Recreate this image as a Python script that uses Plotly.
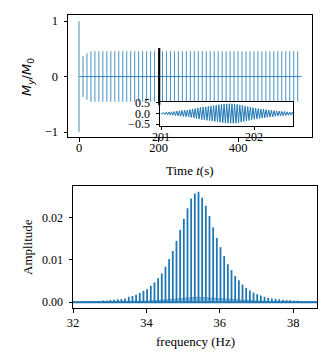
import plotly.graph_objects as go

# ---------------- data ----------------
# main time trace: initial pulse at t=0, then bursts every 10 s
pulse_times = [0] + [10 * i for i in range(1, 56)]
pulse_amps = [1.0, 0.37, 0.42] + [0.455] * 53
trace_end = 560

# inset: one burst (201 .. 202.42 s), per-cycle amplitude
inset_t0 = 201.0
inset_period = 1 / 35.4
inset_amps = [0.03, 0.045, 0.06, 0.07, 0.08, 0.095, 0.11, 0.125, 0.14, 0.15,
              0.16, 0.185, 0.21, 0.235, 0.26, 0.28, 0.30, 0.315, 0.33, 0.35,
              0.37, 0.39, 0.41, 0.425, 0.44, 0.45, 0.455, 0.455, 0.45, 0.425,
              0.40, 0.375, 0.35, 0.32, 0.29, 0.27, 0.25, 0.23, 0.21, 0.195,
              0.18, 0.165, 0.15, 0.135, 0.12, 0.11, 0.10, 0.09, 0.08, 0.07, 0.06]

# spectrum comb peaks (Hz, amplitude)
peak_freqs = [32.02, 32.12, 32.22, 32.32, 32.42, 32.52, 32.62, 32.72, 32.82, 32.92,
              33.02, 33.12, 33.22, 33.32, 33.42, 33.52, 33.62, 33.72, 33.82, 33.92,
              34.02, 34.12, 34.22, 34.32, 34.42, 34.52, 34.62, 34.72, 34.82, 34.92,
              35.02, 35.12, 35.22, 35.32, 35.42, 35.52, 35.62, 35.72, 35.82, 35.92,
              36.02, 36.12, 36.22, 36.32, 36.42, 36.52, 36.62, 36.72, 36.82, 36.92,
              37.02, 37.12, 37.22, 37.32, 37.42, 37.52, 37.62, 37.72, 37.82, 37.92,
              38.02, 38.12, 38.22, 38.32, 38.42, 38.52, 38.62]
peak_amps = [0.0001, 0.00015, 0.00015, 0.0002, 0.0002, 0.00025, 0.0003, 0.0003, 0.0004, 0.0004,
             0.0005, 0.0006, 0.0007, 0.0008, 0.0009, 0.0013, 0.0015, 0.0018, 0.0022, 0.0027,
             0.0031, 0.0039, 0.0047, 0.0057, 0.0068, 0.0084, 0.0102, 0.0121, 0.0145, 0.0171,
             0.0197, 0.0222, 0.0245, 0.0257, 0.0261, 0.0247, 0.0228, 0.0204, 0.0177, 0.0152,
             0.0130, 0.0109, 0.0090, 0.0076, 0.0062, 0.0052, 0.0042, 0.0034, 0.0028, 0.0023,
             0.0019, 0.0016, 0.0013, 0.0011, 0.0009, 0.0008, 0.0007, 0.0006, 0.0005, 0.0005,
             0.0004, 0.0004, 0.0003, 0.0003, 0.0003, 0.0002, 0.0002]

# sidelobe (floor between peaks)
side_freqs = [32.0, 33.0, 33.5, 34.0, 34.3, 34.6, 34.9, 35.2, 35.4, 35.6,
              35.9, 36.2, 36.6, 37.0, 37.5, 38.0, 38.65]
side_amps = [0.00005, 0.0001, 0.00015, 0.00025, 0.0004, 0.0006, 0.0009, 0.0011, 0.0012, 0.0011,
             0.0009, 0.0007, 0.0005, 0.0003, 0.00015, 0.0001, 0.00005]

BLUE = "#1f77b4"
FONT = "Liberation Serif"

# ---------------- build ----------------
fig = go.Figure()

fig.add_trace(go.Scatter(x=[0, trace_end], y=[0, 0], mode="lines",
                         line=dict(color=BLUE, width=1), opacity=0.85,
                         xaxis="x", yaxis="y", hoverinfo="skip"))
sx, sy = [], []
for t, a in zip(pulse_times, pulse_amps):
    sx += [t, t, None]
    sy += [-a, a, None]
fig.add_trace(go.Scatter(x=sx, y=sy, mode="lines",
                         line=dict(color=BLUE, width=1), opacity=0.8,
                         xaxis="x", yaxis="y", hoverinfo="skip"))

fig.add_trace(go.Scatter(x=side_freqs, y=side_amps, mode="lines", fill="tozeroy",
                         fillcolor="rgba(31,119,180,0.45)",
                         line=dict(color="rgba(31,119,180,0.6)", width=1),
                         xaxis="x2", yaxis="y2", hoverinfo="skip"))
fig.add_trace(go.Scatter(x=[32, 38.65], y=[0, 0], mode="lines",
                         line=dict(color=BLUE, width=2),
                         xaxis="x2", yaxis="y2", hoverinfo="skip"))
px_, py_ = [], []
for f, a in zip(peak_freqs, peak_amps):
    px_ += [f, f, None]
    py_ += [0, a, None]
fig.add_trace(go.Scatter(x=px_, y=py_, mode="lines",
                         line=dict(color=BLUE, width=1.8),
                         xaxis="x2", yaxis="y2", hoverinfo="skip"))

ix, iy = [], []
half = inset_period / 2
for i, a in enumerate(inset_amps):
    t = inset_t0 + i * inset_period
    ix += [t, t + half]
    iy += [a, -a]
fig.add_trace(go.Scatter(x=ix, y=iy, mode="lines",
                         line=dict(color=BLUE, width=1),
                         xaxis="x3", yaxis="y3", hoverinfo="skip"))

W, H = 335, 357
def fx(p):
    return p / W
def fy(p):
    return 1 - p / H

def ax(size=12.5, standoff=2):
    return dict(showgrid=False, zeroline=False, showline=True, mirror=True,
                linecolor="black", linewidth=1, ticks="outside", ticklen=3.5,
                tickwidth=0.8, tickcolor="black", automargin=False,
                ticklabelstandoff=standoff,
                tickfont=dict(family=FONT, size=size, color="black"))

fig.update_layout(
    template="none",
    width=W, height=H, margin=dict(l=0, r=0, t=0, b=0, pad=0),
    font=dict(family=FONT, color="black"),
    paper_bgcolor="white", plot_bgcolor="white", showlegend=False,
    xaxis=dict(domain=[fx(68), fx(312)], range=[-27.7, 586], anchor="y",
               tickvals=[0, 200, 400], **ax(12.5, -5)),
    yaxis=dict(domain=[fy(137), fy(15)], range=[-1.09, 1.11], anchor="x",
               tickvals=[-1, 0, 1], ticktext=["\u22121", "0", "1"], **ax(12.5, 3)),
    xaxis2=dict(domain=[fx(73), fx(317)], range=[32, 38.65], anchor="y2",
                tickvals=[32, 34, 36, 38], **ax(12.5, -1)),
    yaxis2=dict(domain=[fy(308), fy(186)], range=[-0.00135, 0.02747], anchor="x2",
                tickvals=[0, 0.01, 0.02], tickformat=".2f", **ax(12, 3)),
    xaxis3=dict(domain=[fx(160), fx(293)], range=[200.989, 202.419], anchor="y3",
                tickvals=[201, 202], **ax(12, -3)),
    yaxis3=dict(domain=[fy(125.5), fy(101.5)], range=[-0.56, 0.56], anchor="x3",
                tickvals=[-0.5, 0, 0.5], tickformat=".1f", **ax(12, 3)),
)

fig.add_shape(type="rect", xref="x", yref="y", x0=201, x1=202.42, y0=-0.5, y1=0.5,
              line=dict(color="black", width=1.6), layer="above")

def title(x, y, text, angle=0, family=FONT):
    fig.add_annotation(x=fx(x), y=fy(y), xref="paper", yref="paper", showarrow=False,
                       xanchor="center", yanchor="middle", textangle=angle,
                       text=text, font=dict(family=family, size=13, color="black"))

title(190, 170.5, "Time <i>t</i>(s)")
title(27, 77, "<i>M</i><sub><i>y</i></sub>/<i>M</i><sub>0</sub>", -90, "DejaVu Sans")
title(195, 341.5, "frequency (Hz)")
title(27, 247, "Amplitude", -90)

fig.write_html("out.html", config={"displayModeBar": False},
               post_script="document.body.style.margin='0';document.body.style.padding='0';")
